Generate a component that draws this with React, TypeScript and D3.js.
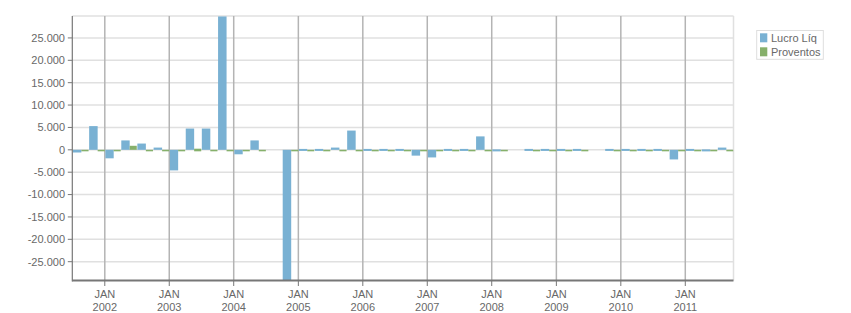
import React from "react";
import * as d3 from "d3";

const quarters: string[] = [
  "2001-07", "2001-10",
  "2002-01", "2002-04", "2002-07", "2002-10",
  "2003-01", "2003-04", "2003-07", "2003-10",
  "2004-01", "2004-04", "2004-07", "2004-10",
  "2005-01", "2005-04", "2005-07", "2005-10",
  "2006-01", "2006-04", "2006-07", "2006-10",
  "2007-01", "2007-04", "2007-07", "2007-10",
  "2008-01", "2008-04", "2008-07", "2008-10",
  "2009-01", "2009-04", "2009-07", "2009-10",
  "2010-01", "2010-04", "2010-07", "2010-10",
  "2011-01", "2011-04", "2011-07",
];

const lucroLiq: (number | null)[] = [
  -600, 5300,
  -1900, 2100, 1400, 500,
  -4600, 4750, 4750, 29800,
  -1000, 2100, null, -29200,
  200, 200, 500, 4300,
  200, 200, 200, -1300,
  -1700, 200, 200, 3000,
  -350, null, 200, 200,
  200, 200, null, 200,
  200, 200, 200, -2150,
  200, -350, 500,
];

const proventos: (number | null)[] = [
  0, 0,
  0, 900, 0, 0,
  0, 250, 0, 0,
  0, 0, null, 0,
  0, 0, 0, 0,
  0, 0, 0, 0,
  0, 0, 0, 0,
  0, null, 0, 0,
  0, 0, null, 0,
  0, 0, 0, 0,
  0, 0, 0,
];

const yTicks: number[] = [-25000, -20000, -15000, -10000, -5000, 0, 5000, 10000, 15000, 20000, 25000];
const xTickYears: number[] = [2002, 2003, 2004, 2005, 2006, 2007, 2008, 2009, 2010, 2011];
const seriesNames: string[] = ["Lucro Líq", "Proventos"];

const BLUE = "#79b1d3";
const GREEN = "#86b06b";
const FONT = "'Liberation Sans', Arial, sans-serif";
const TEXT = "#686868";

const W = 851;
const H = 313;
const left = 72.3;
const right = 733.5;
const top = 16;
const bottom = 280.5;

const parseQ = (s: string) => {
  const [y, m] = s.split("-").map(Number);
  return new Date(Date.UTC(y, m - 1, 1));
};

const locale = d3.formatLocale({
  decimal: ",",
  thousands: ".",
  grouping: [3],
  currency: ["", ""],
  minus: "-",
});
const fmt = locale.format(",d");

export default function App() {
  const x = d3
    .scaleUtc()
    .domain([new Date(Date.UTC(2001, 6, 1)), new Date(Date.UTC(2011, 9, 1))])
    .range([left, right]);
  const y = d3.scaleLinear().domain([-29200, 29900]).range([bottom, top]);
  const y0 = y(0);

  const bars: React.ReactNode[] = [];
  quarters.forEach((q, i) => {
    const d0 = parseQ(q);
    const d1 = d3.utcMonth.offset(d0, 3);
    const x0 = x(d0);
    const x1 = x(d1);
    const split = x0 + 0.56 * (x1 - x0);
    const lv = lucroLiq[i];
    if (lv !== null) {
      let t = y(Math.max(lv, 0));
      let b = y(Math.min(lv, 0));
      if (b - t < 2) {
        if (lv >= 0) {
          b = t + 2;
        } else {
          t = b - 2;
        }
      }
      bars.push(
        <rect key={"l" + i} x={x0 + 0.6} y={t} width={split - x0 - 0.6} height={b - t} fill={BLUE} />
      );
    }
    const pv = proventos[i];
    if (pv !== null) {
      let t = y(Math.max(pv, 0));
      let b = y(Math.min(pv, 0));
      if (b - t < 1.5) {
        b = y0 + 1.5;
        t = Math.min(t, y0);
        if (b - t < 1.5) t = b - 1.5;
      }
      bars.push(
        <rect key={"p" + i} x={split} y={t} width={x1 - split} height={b - t} fill={GREEN} />
      );
    }
  });

  return (
    <svg
      width={W}
      height={H}
      style={{ position: "absolute", left: 0, top: 0, background: "#fff" }}
    >
      <defs>
        <clipPath id="plot">
          <rect x={left} y={top} width={right - left} height={bottom - top} />
        </clipPath>
      </defs>
      {/* horizontal grid */}
      {yTicks.map((t) => (
        <line key={"hg" + t} x1={left} x2={right} y1={y(t)} y2={y(t)} stroke="#e0e0e0" strokeWidth={1.5} />
      ))}
      <line x1={left} x2={right} y1={top} y2={top} stroke="#e0e0e0" strokeWidth={1.5} />
      <line x1={right} x2={right} y1={top} y2={bottom} stroke="#e0e0e0" strokeWidth={1.5} />
      {/* vertical grid */}
      {xTickYears.map((yr) => {
        const xx = x(new Date(Date.UTC(yr, 0, 1)));
        return <line key={"vg" + yr} x1={xx} x2={xx} y1={top} y2={bottom} stroke="#b4b4b4" strokeWidth={1.5} />;
      })}
      <g clipPath="url(#plot)">{bars}</g>
      {/* axes */}
      <line x1={left} x2={left} y1={top} y2={bottom + 1} stroke="#777" strokeWidth={1.2} />
      <line x1={left} x2={right} y1={bottom} y2={bottom} stroke="#777" strokeWidth={2} />
      {yTicks.map((t) => (
        <g key={"yt" + t}>
          <line x1={left - 4.5} x2={left} y1={y(t)} y2={y(t)} stroke="#777" strokeWidth={1} />
          <text
            x={65}
            y={y(t)}
            dy="0.35em"
            textAnchor="end"
            fontFamily={FONT}
            fontSize={11}
            fill={TEXT}
          >
            {fmt(t)}
          </text>
        </g>
      ))}
      {xTickYears.map((yr) => {
        const xx = x(new Date(Date.UTC(yr, 0, 1)));
        return (
          <g key={"xt" + yr}>
            <line x1={xx} x2={xx} y1={bottom} y2={bottom + 5.5} stroke="#777" strokeWidth={1} />
            <text x={xx} y={294.5} dy="0.35em" textAnchor="middle" fontFamily={FONT} fontSize={11} fill={TEXT}>
              JAN
            </text>
            <text x={xx} y={306.8} dy="0.35em" textAnchor="middle" fontFamily={FONT} fontSize={11} fill={TEXT}>
              {yr}
            </text>
          </g>
        );
      })}
      {/* legend */}
      <rect x={756.7} y={30.5} width={66.6} height={28.8} fill="#fff" stroke="#dedede" strokeWidth={1} />
      {seriesNames.map((n, i) => (
        <g key={"lg" + n}>
          <rect x={760} y={33.3 + i * 14} width={7.3} height={9} fill={i === 0 ? BLUE : GREEN} />
          <text x={771} y={38.6 + i * 13.4} dy="0.35em" fontFamily={FONT} fontSize={11} fill={TEXT}>
            {n}
          </text>
        </g>
      ))}
    </svg>
  );
}
